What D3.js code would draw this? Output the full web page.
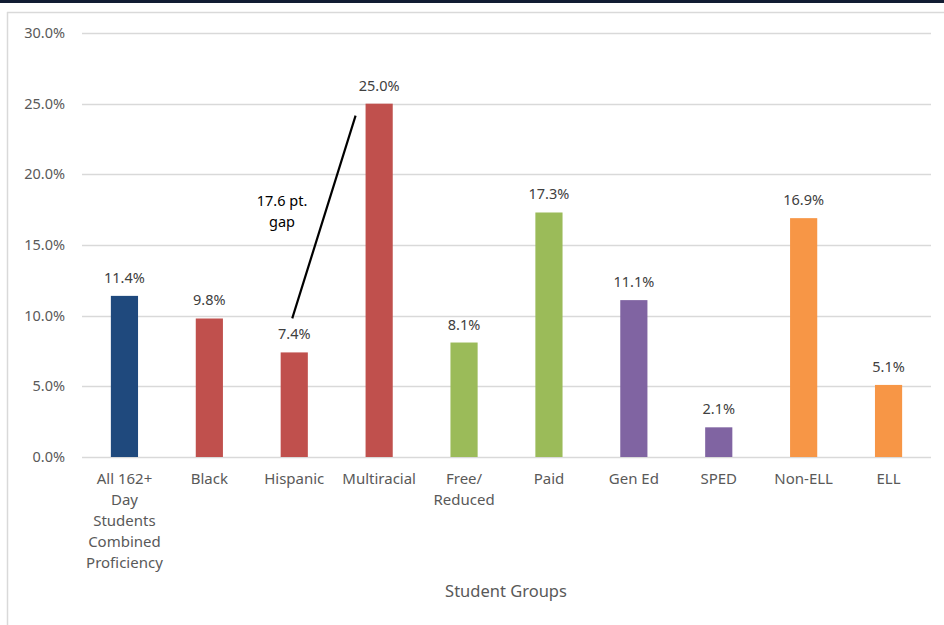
<!DOCTYPE html>
<html><head><meta charset="utf-8">
<script src="https://cdn.jsdelivr.net/npm/d3@7"></script>
<style>body{margin:0;background:#fff;} svg{display:block;font-family:"Noto Sans","Open Sans",sans-serif;}</style>
</head><body><svg id="c" width="944" height="625"></svg>
<script>
const categories = ["All 162+\nDay\nStudents\nCombined\nProficiency","Black","Hispanic","Multiracial","Free/\nReduced","Paid","Gen Ed","SPED","Non-ELL","ELL"];
const values = [11.4, 9.8, 7.4, 25.0, 8.1, 17.3, 11.1, 2.1, 16.9, 5.1];
const colors = ["#1F497D","#C0504D","#C0504D","#C0504D","#9BBB59","#9BBB59","#8064A2","#8064A2","#F79646","#F79646"];
const yTicks = [0,5,10,15,20,25,30];
const axisTitle = "Student Groups";
const annotation = {from:"Hispanic", to:"Multiracial", text:["17.6 pt.","gap"]};

const svg = d3.select("#c");
// frame
svg.append("rect").attr("x",0).attr("y",0).attr("width",944).attr("height",3).attr("fill","#121d33");
svg.append("line").attr("x1",7.5).attr("x2",7.5).attr("y1",12).attr("y2",625).attr("stroke","#d9d9d9").attr("stroke-width",1.5);
svg.append("line").attr("x1",7).attr("x2",944).attr("y1",12.5).attr("y2",12.5).attr("stroke","#d9d9d9").attr("stroke-width",1.5);

const x = d3.scaleBand().domain(categories).range([82,931]).paddingInner(0.68).paddingOuter(0.34);
const y = d3.scaleLinear().domain([0,30]).range([457,33]);

// grid
svg.append("g").selectAll("line").data(yTicks).join("line")
  .attr("x1",82).attr("x2",931).attr("y1",d=>Math.round(y(d))+0.5).attr("y2",d=>Math.round(y(d))+0.5)
  .attr("stroke","#d9d9d9").attr("stroke-width",1.5);
// y labels
svg.append("g").selectAll("text").data(yTicks).join("text")
  .attr("x",65).attr("y",d=>y(d)).attr("dy","0.35em").attr("text-anchor","end")
  .attr("font-size",14.5).attr("fill","#595959").text(d=>d.toFixed(1)+"%");
// bars
svg.append("g").selectAll("rect").data(categories).join("rect")
  .attr("x",d=>x(d)).attr("width",x.bandwidth())
  .attr("y",(d,i)=>y(values[i])).attr("height",(d,i)=>y(0)-y(values[i]))
  .attr("fill",(d,i)=>colors[i]);
// value labels
svg.append("g").selectAll("text").data(categories).join("text")
  .attr("x",d=>x(d)+x.bandwidth()/2).attr("y",(d,i)=>y(values[i])-13)
  .attr("text-anchor","middle").attr("font-size",14.5).attr("fill","#404040")
  .text((d,i)=>values[i].toFixed(1)+"%");
// category labels
const cl = svg.append("g").selectAll("text").data(categories).join("text")
  .attr("x",d=>x(d)+x.bandwidth()/2).attr("y",484)
  .attr("text-anchor","middle").attr("font-size",15).attr("fill","#595959");
cl.each(function(d){
  const t = d3.select(this);
  d.split("\n").forEach((ln,k)=>{
    t.append("tspan").attr("x",x(d)+x.bandwidth()/2).attr("dy",k?21:0).text(ln);
  });
});
// axis title
svg.append("text").attr("x",506).attr("y",597).attr("text-anchor","middle")
  .attr("font-size",16.5).attr("fill","#595959").text(axisTitle);
// annotation
const iA = categories.indexOf(annotation.from), iB = categories.indexOf(annotation.to);
const xa = x(annotation.from)+x.bandwidth()/2 - 2, ya = y(values[iA]) - 34;
const xb = x(annotation.to) - 10, yb = y(values[iB]) + 12;
svg.append("line").attr("x1",xa).attr("y1",ya).attr("x2",xb).attr("y2",yb)
  .attr("stroke","#000").attr("stroke-width",2.2);
const at = svg.append("text").attr("x",282).attr("y",206).attr("text-anchor","middle")
  .attr("font-size",14.5).attr("fill","#000");
annotation.text.forEach((ln,k)=>at.append("tspan").attr("x",282).attr("dy",k?21:0).text(ln));
</script></body></html>
